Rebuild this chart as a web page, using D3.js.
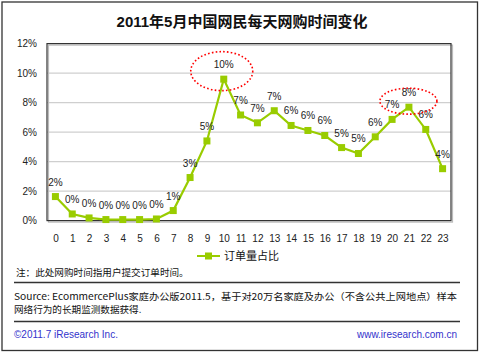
<!DOCTYPE html>
<html><head><meta charset="utf-8">
<script src="https://cdn.jsdelivr.net/npm/d3@7"></script>
<style>
html,body{margin:0;padding:0;background:#fff;}
svg{display:block;}
text{font-family:"Liberation Sans","Noto Sans CJK SC",sans-serif;}
</style></head>
<body>
<svg id="c" width="480" height="353"></svg>
<script>
const title = "2011年5月中国网民每天网购时间变化";
const hours = ["0","1","2","3","4","5","6","7","8","9","10","11","12","13","14","15","16","17","18","19","20","21","22","23"];
const shares = [1.63,0.45,0.18,0.07,0.07,0.07,0.11,0.68,2.92,5.40,9.59,7.16,6.63,7.45,6.45,6.11,5.77,4.95,4.55,5.68,6.86,7.69,6.18,3.52];
const yTicks = [0,2,4,6,8,10,12];
const seriesName = "订单量占比";
const highlights = [10, 21];
const note = "注：此处网购时间指用户提交订单时间。";
const source1 = "Source: EcommercePlus家庭办公版2011.5，基于对20万名家庭及办公（不含公共上网地点）样本";
const source2 = "网络行为的长期监测数据获得.";
const copyright = "©2011.7 iResearch Inc.";
const website = "www.iresearch.com.cn";

(function(){
const svg = d3.select("#c");
const green = "#99CC00";

svg.append("rect").attr("x",2).attr("y",2).attr("width",475.5).attr("height",348.5)
  .attr("fill","#fff").attr("stroke","#333").attr("stroke-width",1.3);

svg.append("text").attr("x",242).attr("y",27).attr("text-anchor","middle")
  .attr("font-size",15).attr("font-weight","bold").attr("fill","#111").text(title);

const pL = 47, pR = 451, pT = 43.6, pB = 220.6;
const x = d3.scalePoint().domain(hours).range([pL, pR]).padding(0.5);
const y = d3.scaleLinear().domain([0,12]).range([pB, pT]);

svg.append("g").selectAll("line").data(yTicks.slice(1,-1)).join("line")
  .attr("x1",pL).attr("x2",pR).attr("y1",d=>y(d)).attr("y2",d=>y(d))
  .attr("stroke","#cfcfcf").attr("stroke-width",1.2);

svg.append("rect").attr("x",pL+1.5).attr("y",pT+1.5).attr("width",pR-pL).attr("height",pB-pT)
  .attr("fill","none").attr("stroke","#bbb").attr("stroke-width",1.2);
svg.append("rect").attr("x",pL).attr("y",pT).attr("width",pR-pL).attr("height",pB-pT)
  .attr("fill","none").attr("stroke","#333").attr("stroke-width",1.2);

const yAxis = d3.axisLeft(y).tickValues(yTicks).tickSize(0).tickPadding(10).tickFormat(d=>d+"%");
const gy = svg.append("g").attr("transform",`translate(${pL},0)`).call(yAxis);
gy.select(".domain").remove();
gy.selectAll("text").attr("font-size",10).attr("fill","#222").style("font-family","Liberation Sans");

const xAxis = d3.axisBottom(x).tickSize(0).tickPadding(14);
const gx = svg.append("g").attr("transform",`translate(0,${pB})`).call(xAxis);
gx.select(".domain").remove();
gx.selectAll("text").attr("font-size",10).attr("fill","#222").style("font-family","Liberation Sans");

const data = hours.map((h,i)=>({h, v:shares[i]}));
svg.append("path").datum(data)
  .attr("d", d3.line().x(d=>x(d.h)).y(d=>y(d.v)))
  .attr("fill","none").attr("stroke",green).attr("stroke-width",2.2);
svg.append("g").selectAll("rect").data(data).join("rect")
  .attr("x",d=>x(d.h)-3.5).attr("y",d=>y(d.v)-3.5).attr("width",7).attr("height",7)
  .attr("fill",green);

const fmt = d3.format(".0f");
svg.append("g").selectAll("text").data(data).join("text")
  .attr("x",d=>x(d.h)).attr("y",d=>y(d.v)-11).attr("text-anchor","middle")
  .attr("font-size",10).attr("fill","#222").text(d=>fmt(d.v)+"%");

const ell = [{i:highlights[0], dx:-2, dy:-8, rx:31, ry:19.5},{i:highlights[1], dx:-0.5, dy:-6, rx:28.5, ry:13}];
svg.append("g").selectAll("ellipse").data(ell).join("ellipse")
  .attr("cx",d=>x(hours[d.i])+d.dx).attr("cy",d=>y(shares[d.i])+d.dy)
  .attr("rx",d=>d.rx).attr("ry",d=>d.ry)
  .attr("fill","none").attr("stroke","#ff0000").attr("stroke-width",1.6).attr("stroke-dasharray","1.6,2.2");

const lg = svg.append("g").attr("transform","translate(197,256)");
lg.append("line").attr("x1",0).attr("x2",23).attr("stroke",green).attr("stroke-width",2);
lg.append("rect").attr("x",8).attr("y",-3.5).attr("width",7).attr("height",7).attr("fill",green);
lg.append("text").attr("x",27).attr("y",4).attr("font-size",11).attr("fill","#111")
  .style("font-family","Noto Sans CJK SC").text(seriesName);

svg.append("text").attr("x",16).attr("y",276).attr("font-size",9.6).attr("fill","#111")
  .style("font-family","Noto Sans CJK SC").text(note);

svg.append("line").attr("x1",14).attr("x2",460).attr("y1",282.5).attr("y2",282.5).attr("stroke","#333").attr("stroke-width",1.5);

svg.append("text").attr("x",14).attr("y",300).attr("font-size",9.6).attr("fill","#111")
  .style("font-family","Noto Sans CJK SC").attr("textLength",443).attr("lengthAdjust","spacingAndGlyphs").text(source1);
svg.append("text").attr("x",14).attr("y",313).attr("font-size",9.6).attr("fill","#111")
  .style("font-family","Noto Sans CJK SC").text(source2);

svg.append("line").attr("x1",14).attr("x2",460).attr("y1",321.5).attr("y2",321.5).attr("stroke","#333").attr("stroke-width",1.5);

svg.append("text").attr("x",14).attr("y",338).attr("font-size",10).attr("fill","#3333cc").text(copyright);
svg.append("text").attr("x",457).attr("y",338).attr("text-anchor","end").attr("font-size",10).attr("fill","#3333cc").text(website);
})();
</script>
</body></html>
